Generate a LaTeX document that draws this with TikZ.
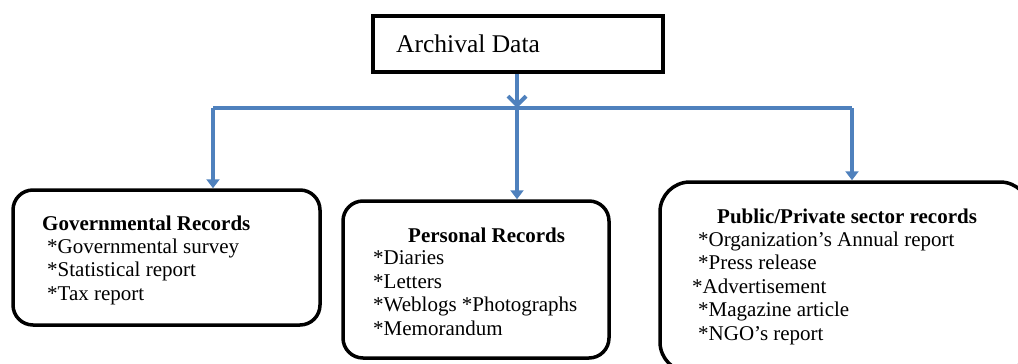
\documentclass[tikz,border=0pt]{standalone}
\usepackage{fontspec}
\setmainfont{Liberation Serif}
\usetikzlibrary{arrows.meta}
\definecolor{linkblue}{RGB}{79,129,189}
\tikzset{
  box/.style={draw, line width=3.5pt, rounded corners=20pt},
  txt/.style={inner sep=0pt, anchor=base west, align=left, font=\fontsize{21}{23.5}\selectfont},
  link/.style={draw=linkblue, line width=4pt},
  arrow/.style={link, -{Triangle[length=9pt,width=13pt]}},
}

\begin{document}
\begin{tikzpicture}[x=1pt,y=-1pt]
  \useasboundingbox (0,0) rectangle (1018,364);

  % top box
  \node[draw, line width=3.5pt, minimum width=290pt, minimum height=56pt] (archival) at (518,44) {};
  \node[txt, font=\fontsize{25.5}{30}\selectfont] (archivaltxt) at (396,52) {Archival Data};

  % the three record boxes
  \node[box, minimum width=307pt, minimum height=135pt] (gov) at (166.5,257.5) {};
  \node[box, minimum width=266pt, minimum height=157pt] (personal) at (476,279.5) {};
  \node[box, rounded corners=30pt, minimum width=370pt, minimum height=190pt] (sector) at (845,277) {};

  % texts (a list is placed by the baseline of its last line)
  \node[txt] (govtitle) at (42,230) {\textbf{Governmental Records}};
  \node[txt] (govlist) at (47,300) {*Governmental survey\\*Statistical report\\*Tax report};
  \node[txt] (perstitle) at (408,242) {\textbf{Personal Records}};
  \node[txt] (perslist) at (373,335) {*Diaries\\*Letters\\*Weblogs *Photographs\\*Memorandum};
  \node[txt] (sectortitle) at (717,223) {\textbf{Public/Private sector records}};
  \node[txt] (sectorlist) at (698,340) {*Organization’s Annual report\\*Press release\\\hspace{-6pt}*Advertisement\\*Magazine article\\*NGO’s report};

  % connectors
  \coordinate (jl) at (213,108);
  \coordinate (jm) at (517,108);
  \coordinate (jr) at (852,108);
  \draw[link, -{Straight Barb[length=9pt,width=18pt]}] (archival.south -| jm) -- (jm);
  \draw[link] (jl) -- (jr);
  \draw[arrow] (jl) -- (jl |- gov.north);
  \draw[arrow] (jm) -- (jm |- personal.north);
  \draw[arrow] (jr) -- (jr |- sector.north);
\end{tikzpicture}
\end{document}
